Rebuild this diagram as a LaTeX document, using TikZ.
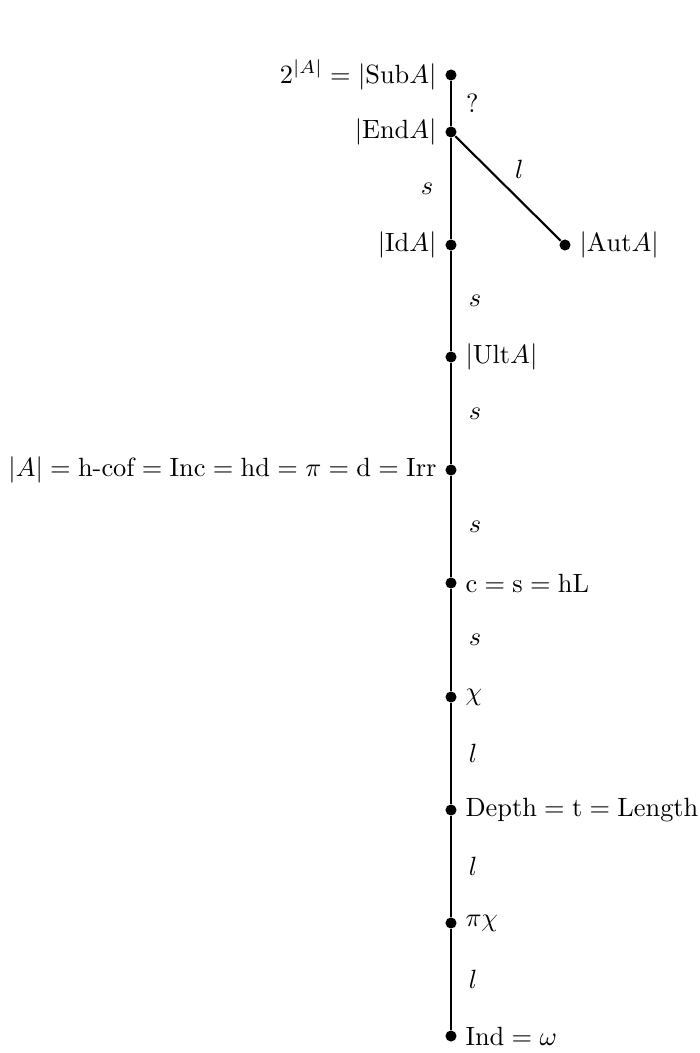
\documentclass[tikz,border=0pt]{standalone}
\begin{document}
\begin{tikzpicture}[x=0.379pt,y=-0.379pt,
  dot/.style={circle,fill=black,inner sep=0pt,minimum size=4.2pt},
  edge/.style={line width=0.8pt},
  lab/.style={inner sep=3pt}]
\useasboundingbox (0,0) rectangle (699,1053);
\node[dot,label={[lab]left:$2^{|A|}=|\mathrm{Sub}A|$}] (sub) at (451,75) {};
\node[dot,label={[lab]left:$|\mathrm{End}A|$}] (end) at (451,132) {};
\node[dot,label={[lab]left:$|\mathrm{Id}A|$}] (id) at (451,245) {};
\node[dot,label={[lab]right:$|\mathrm{Aut}A|$}] (aut) at (565,245) {};
\node[dot,label={[lab]right:$|\mathrm{Ult}A|$}] (ult) at (451,357) {};
\node[dot,label={[lab]left:$|A|=\mbox{h-cof}=\mathrm{Inc}=\mathrm{hd}=\pi=\mathrm{d}=\mathrm{Irr}$}] (card) at (451,470) {};
\node[dot,label={[lab]right:$\mathrm{c}=\mathrm{s}=\mathrm{hL}$}] (c) at (451,583) {};
\node[dot,label={[lab]right:$\chi$}] (chi) at (451,697) {};
\node[dot,label={[lab]right:$\mathrm{Depth}=\mathrm{t}=\mathrm{Length}$}] (depth) at (451,810) {};
\node[dot,label={[lab]right:$\pi\chi$}] (pichi) at (451,923) {};
\node[dot,label={[lab]right:$\mathrm{Ind}=\omega$}] (ind) at (451,1036) {};
\draw[edge] (sub) -- node[right,xshift=2pt] {?} (end);
\draw[edge] (end) -- node[left,xshift=-3pt] {$s$} (id);
\draw[edge] (end) -- node[above right,xshift=-1pt] {$l$} (aut);
\draw[edge] (id) -- node[right,xshift=3pt] {$s$} (ult);
\draw[edge] (ult) -- node[right,xshift=3pt] {$s$} (card);
\draw[edge] (card) -- node[right,xshift=3pt] {$s$} (c);
\draw[edge] (c) -- node[right,xshift=3pt] {$s$} (chi);
\draw[edge] (chi) -- node[right,xshift=3pt] {$l$} (depth);
\draw[edge] (depth) -- node[right,xshift=3pt] {$l$} (pichi);
\draw[edge] (pichi) -- node[right,xshift=3pt] {$l$} (ind);
\end{tikzpicture}
\end{document}
